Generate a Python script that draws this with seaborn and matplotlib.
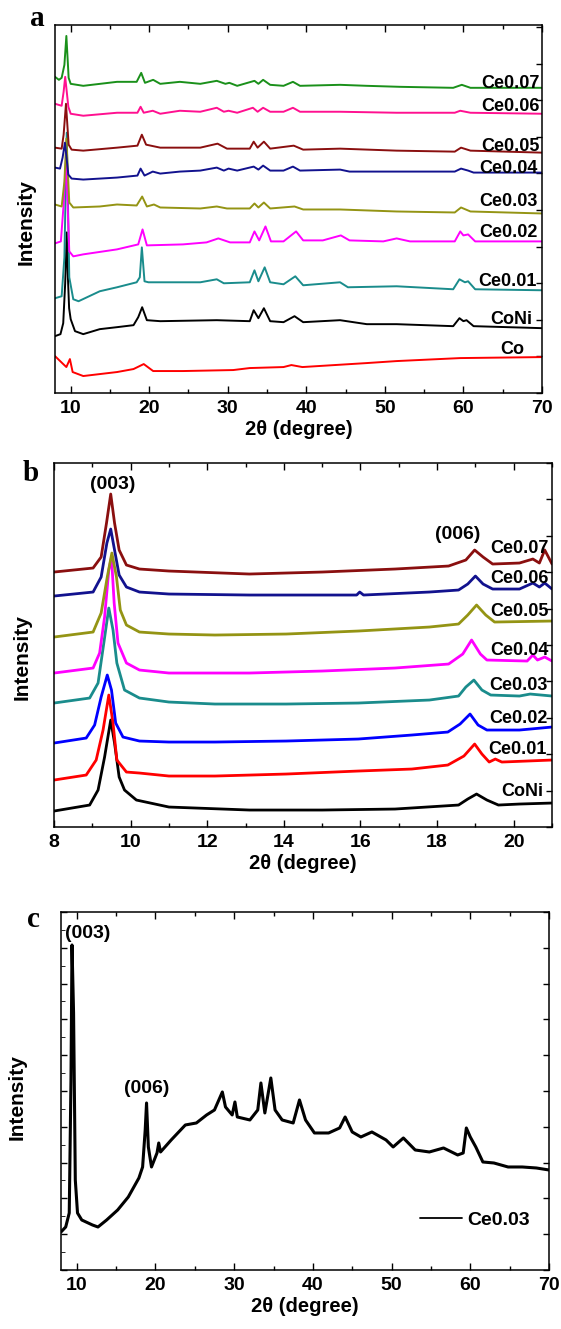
import matplotlib
matplotlib.use("Agg")
import matplotlib.pyplot as plt
from matplotlib.ticker import MultipleLocator
import pandas as pd
import seaborn as sns

# XRD patterns: (2theta in degree, intensity in a.u., stacking offset included)

# ---- panel a, 8-70 degree
a_co = [(8.0, 37), (9.05, 29), (9.45, 26), (9.9, 34), (10.25, 21), (11.6, 17), (15.9, 21),
        (18.0, 24), (19.3, 29), (20.5, 22), (24.3, 22), (30.7, 23), (32.8, 25), (37.1, 26),
        (38.1, 28), (39.5, 26), (47.7, 30), (51.5, 32), (59.6, 35), (70.0, 36)]
a_coni = [(8.0, 57), (8.7, 59), (9.05, 70), (9.3, 110), (9.5, 161), (9.65, 115), (9.8, 85),
          (10.0, 74), (10.55, 62), (11.6, 59), (13.7, 64), (15.9, 66), (18.0, 68), (18.6, 76),
          (19.1, 86), (19.7, 73), (21.4, 72), (28.6, 73), (32.8, 72), (33.3, 83), (33.9, 75),
          (34.6, 85), (35.4, 72), (37.1, 71), (38.5, 77), (39.6, 71), (44.3, 73), (47.7, 69),
          (51.5, 69), (58.7, 67), (59.5, 75), (60.0, 72), (60.4, 73), (61.3, 67), (70.0, 65)]
a_ce001 = [(8.0, 95), (8.85, 97), (9.2, 136), (9.5, 261), (9.82, 116), (10.33, 94), (11.0, 92),
           (13.7, 102), (15.9, 106), (18.4, 111), (18.8, 116), (19.06, 146), (19.4, 112),
           (19.9, 111), (26.5, 111), (28.6, 114), (29.5, 110), (32.8, 111), (33.4, 123),
           (33.9, 112), (34.7, 126), (35.4, 111), (37.1, 109), (38.6, 117), (39.6, 108),
           (44.3, 111), (45.3, 106), (51.5, 107), (58.7, 104), (59.5, 114), (60.2, 111),
           (60.6, 112), (61.5, 104), (70.0, 103)]
a_ce002 = [(8.0, 150), (8.75, 152), (9.1, 189), (9.4, 235), (9.82, 142), (10.33, 137), (11.6, 139),
           (15.9, 144), (18.6, 149), (19.15, 164), (19.7, 148), (24.3, 149), (27.3, 151),
           (28.8, 155), (30.3, 151), (32.8, 151), (33.4, 162), (34.0, 153), (34.8, 167),
           (35.5, 152), (37.1, 152), (38.7, 162), (39.6, 153), (42.1, 153), (44.4, 158),
           (45.5, 153), (49.8, 152), (51.5, 155), (53.2, 152), (58.9, 152), (59.6, 162),
           (60.0, 158), (60.6, 159), (61.5, 152), (70.0, 152)]
a_ce003 = [(8.0, 189), (8.85, 187), (9.2, 212), (9.45, 255), (9.82, 191), (10.33, 186), (13.7, 187),
           (15.9, 189), (18.4, 188), (19.1, 197), (19.7, 187), (20.6, 189), (21.4, 186),
           (26.5, 185), (28.6, 187), (29.9, 185), (32.8, 185), (33.4, 190), (33.9, 186),
           (34.6, 191), (35.4, 185), (38.5, 187), (39.6, 184), (44.3, 184), (51.5, 182),
           (58.9, 181), (59.7, 186), (60.9, 182), (70.0, 180)]
a_ce004 = [(8.0, 226), (8.64, 225), (8.97, 236), (9.27, 251), (9.7, 219), (10.12, 215), (11.6, 214),
           (15.9, 216), (18.5, 218), (18.9, 225), (19.4, 218), (20.45, 222), (21.4, 220),
           (23.9, 222), (26.5, 223), (28.6, 226), (29.5, 223), (30.1, 225), (31.2, 223),
           (33.3, 227), (33.9, 224), (34.5, 228), (35.4, 223), (37.1, 223), (38.3, 227),
           (39.2, 223), (44.3, 224), (45.5, 222), (51.9, 222), (58.9, 222), (59.7, 225),
           (60.6, 223), (61.3, 221), (70.0, 221)]
a_ce005 = [(8.0, 246), (8.85, 245), (9.1, 259), (9.4, 290), (9.74, 249), (10.12, 244), (11.6, 243),
           (15.9, 246), (18.5, 248), (19.06, 259), (19.6, 249), (21.4, 246), (26.5, 246),
           (28.7, 250), (29.9, 245), (32.8, 245), (33.3, 252), (33.8, 246), (34.6, 252),
           (35.4, 245), (38.4, 248), (39.6, 244), (44.3, 245), (51.5, 243), (58.9, 242),
           (59.7, 246), (60.9, 243), (70.0, 241)]
a_ce006 = [(8.0, 290), (8.85, 288), (9.1, 302), (9.3, 317), (9.7, 287), (10.0, 280), (11.6, 278),
           (15.9, 281), (18.5, 281), (18.9, 287), (19.3, 281), (20.45, 283), (21.4, 280),
           (23.9, 283), (26.5, 282), (28.6, 286), (29.5, 282), (30.1, 283), (31.2, 281),
           (33.2, 286), (33.8, 282), (34.5, 286), (35.4, 282), (37.1, 282), (38.3, 286),
           (39.2, 282), (44.3, 282), (51.5, 281), (58.9, 281), (59.6, 283), (60.9, 281), (70.0, 280)]
a_ce007 = [(8.0, 317), (8.5, 314), (8.85, 316), (9.2, 329), (9.45, 358), (9.74, 316), (10.0, 310),
           (11.6, 308), (15.9, 312), (18.4, 312), (18.98, 321), (19.46, 311), (20.5, 314),
           (21.4, 310), (23.9, 312), (26.5, 310), (28.6, 313), (29.7, 310), (30.2, 311),
           (31.2, 308), (33.4, 313), (33.9, 310), (34.5, 314), (35.4, 309), (37.1, 308),
           (38.3, 312), (39.2, 308), (44.3, 309), (47.7, 308), (51.9, 307), (58.7, 306),
           (59.8, 309), (60.9, 306), (70.0, 306)]

a_samples = ["Co", "CoNi", "Ce0.01", "Ce0.02", "Ce0.03", "Ce0.04", "Ce0.05", "Ce0.06", "Ce0.07"]
a_curves = [a_co, a_coni, a_ce001, a_ce002, a_ce003, a_ce004, a_ce005, a_ce006, a_ce007]
a_colors = ["#ff0000", "#000000", "#1a8c8c", "#ff00ff", "#949414", "#12128e", "#8a0f0f",
            "#ff1090", "#1a901a"]

# ---- panel b, 8-21 degree
b_coni = [(8.0, 16), (8.93, 22), (9.15, 37), (9.32, 70), (9.48, 107), (9.58, 84), (9.7, 50),
          (9.84, 37), (10.15, 27), (11.0, 20), (13.1, 17), (15.0, 17), (16.9, 18), (18.56, 22),
          (18.8, 28), (19.03, 33), (19.3, 27), (19.6, 22), (20.15, 23), (21.0, 24)]
b_ce001 = [(8.0, 47), (8.84, 52), (9.1, 67), (9.28, 97), (9.43, 132), (9.54, 104), (9.64, 67),
           (9.89, 55), (10.23, 54), (11.0, 51), (12.2, 51), (14.06, 53), (15.94, 56), (17.34, 58),
           (18.28, 62), (18.7, 71), (18.98, 83), (19.17, 73), (19.36, 65), (19.52, 68),
           (19.69, 65), (21.0, 67)]
b_ce002 = [(8.0, 84), (8.84, 89), (9.06, 102), (9.23, 130), (9.39, 152), (9.5, 137), (9.61, 104),
           (9.8, 90), (10.23, 86), (11.0, 85), (12.2, 85), (14.06, 86), (15.94, 88), (17.34, 92),
           (18.28, 95), (18.6, 103), (18.86, 113), (19.07, 102), (19.3, 97), (20.15, 97),
           (21.0, 100)]
b_ce003 = [(8.0, 124), (8.93, 129), (9.15, 144), (9.3, 184), (9.43, 219), (9.54, 197), (9.64, 164),
           (9.84, 137), (10.23, 129), (11.0, 125), (12.2, 123), (14.06, 123), (15.94, 124),
           (17.8, 127), (18.56, 131), (18.75, 140), (18.96, 147), (19.17, 137), (19.4, 132),
           (20.15, 131), (20.43, 133), (21.0, 131)]
b_ce004 = [(8.0, 154), (9.02, 159), (9.19, 174), (9.32, 210), (9.43, 257), (9.5, 270), (9.57, 224),
           (9.67, 184), (9.89, 164), (10.23, 157), (11.0, 154), (13.1, 154), (15.0, 156),
           (16.9, 159), (18.3, 163), (18.67, 173), (18.9, 187), (19.13, 173), (19.3, 167),
           (20.35, 166), (20.5, 172), (20.62, 167), (20.81, 170), (21.0, 166)]
b_ce005 = [(8.0, 190), (9.02, 195), (9.23, 214), (9.39, 250), (9.51, 274), (9.63, 250), (9.73, 217),
           (9.89, 202), (10.23, 195), (11.0, 193), (12.2, 192), (14.06, 193), (15.94, 196),
           (17.8, 200), (18.56, 203), (18.8, 212), (19.03, 222), (19.27, 212), (19.5, 205),
           (21.0, 206)]
b_ce006 = [(8.0, 231), (9.02, 235), (9.23, 250), (9.38, 284), (9.48, 298), (9.58, 277), (9.7, 252),
           (9.89, 240), (10.23, 235), (11.0, 233), (13.1, 232), (15.9, 232), (15.98, 235),
           (16.08, 232), (17.8, 235), (18.56, 237), (18.8, 243), (19.0, 251), (19.2, 243),
           (19.45, 238), (20.15, 238), (20.5, 244), (20.67, 240), (20.81, 244), (21.0, 238)]
b_ce007 = [(8.0, 255), (9.02, 259), (9.23, 270), (9.37, 304), (9.48, 333), (9.58, 304), (9.7, 277),
           (9.89, 262), (10.23, 258), (11.0, 256), (13.1, 253), (15.0, 255), (16.9, 258),
           (18.3, 261), (18.75, 267), (18.98, 277), (19.2, 270), (19.45, 263), (20.15, 264),
           (20.5, 268), (20.67, 264), (20.81, 277), (21.0, 263)]

b_samples = ["CoNi", "Ce0.01", "Ce0.02", "Ce0.03", "Ce0.04", "Ce0.05", "Ce0.06", "Ce0.07"]
b_curves = [b_coni, b_ce001, b_ce002, b_ce003, b_ce004, b_ce005, b_ce006, b_ce007]
b_colors = ["#000000", "#ff0000", "#0000ff", "#1a8c8c", "#ff00ff", "#949414", "#12128e", "#8a0f0f"]

# ---- panel c, Ce0.03 alone
c_ce003 = [(8.0, 38), (8.6, 43), (9.05, 57), (9.27, 190), (9.4, 325), (9.6, 257), (9.82, 90),
           (10.1, 57), (10.64, 50), (12.0, 45), (12.7, 43), (13.8, 50), (15.2, 60), (16.55, 73),
           (17.9, 92), (18.37, 103), (18.7, 140), (18.87, 167), (19.1, 123), (19.5, 103),
           (20.2, 117), (20.42, 127), (20.65, 118), (22.0, 130), (23.8, 145), (25.2, 147),
           (26.5, 155), (27.5, 160), (28.5, 178), (28.9, 163), (29.75, 155), (30.1, 168),
           (30.4, 153), (32.0, 150), (33.0, 160), (33.4, 187), (33.9, 157), (34.66, 192),
           (35.2, 160), (36.1, 150), (37.5, 147), (38.3, 170), (39.07, 150), (40.2, 137),
           (42.0, 137), (43.4, 142), (44.1, 153), (45.0, 138), (46.1, 133), (47.5, 138),
           (49.3, 130), (50.2, 123), (51.5, 132), (53.0, 120), (54.8, 118), (56.6, 122),
           (58.4, 115), (59.1, 117), (59.5, 142), (60.0, 133), (60.7, 123), (61.6, 108),
           (63.0, 107), (64.8, 103), (66.6, 103), (68.4, 102), (70.0, 100)]


def to_frame(samples, curves):
    rows = []
    for name, pts in zip(samples, curves):
        for tt, inten in pts:
            rows.append((name, tt, inten))
    return pd.DataFrame(rows, columns=["sample", "two_theta", "intensity"])


sns.set_style("ticks")
plt.rcParams["font.family"] = ["Liberation Sans", "DejaVu Sans"]
plt.rcParams["font.weight"] = "bold"
plt.rcParams["axes.labelweight"] = "bold"
plt.rcParams["text.color"] = "black"
plt.rcParams["axes.labelcolor"] = "black"
plt.rcParams["xtick.color"] = "black"
plt.rcParams["ytick.color"] = "black"

fig = plt.figure(figsize=(5.61, 13.29), dpi=100)
ax_a = fig.add_axes([0.098, 0.7043, 0.868, 0.2769])
ax_b = fig.add_axes([0.0963, 0.3777, 0.8877, 0.2739])
ax_c = fig.add_axes([0.1087, 0.0444, 0.8699, 0.2694])


def style_axes(ax, xlim, xmajor, xminor, ylim, ystep, label_xy):
    ax.set_xlim(*xlim)
    ax.set_ylim(*ylim)
    ax.xaxis.set_major_locator(MultipleLocator(xmajor))
    ax.xaxis.set_minor_locator(MultipleLocator(xminor))
    ax.yaxis.set_major_locator(MultipleLocator(ystep))
    ax.tick_params(axis="x", which="both", direction="in", top=True, labelsize=14, pad=5,
                   width=1.0, colors="black")
    ax.tick_params(axis="x", which="major", length=5)
    ax.tick_params(axis="x", which="minor", length=3)
    ax.tick_params(axis="y", which="major", direction="in", left=False, right=True,
                   labelleft=False, length=4, width=1.0, colors="black")
    for sp in ax.spines.values():
        sp.set_linewidth(1.1)
        sp.set_color("black")
    ax.set_xlabel("2θ (degree)", fontsize=14.5, labelpad=2)
    ax.set_ylabel("Intensity", fontsize=15)
    ax.yaxis.set_label_coords(*label_xy)


# panel a
df_a = to_frame(a_samples, a_curves)
sns.lineplot(data=df_a, x="two_theta", y="intensity", hue="sample", hue_order=a_samples,
             palette=a_colors, estimator=None, legend=False, linewidth=1.4, ax=ax_a)
style_axes(ax_a, (8, 70), 10, 5, (0, 369), 36.7, (-0.04, 0.465))
a_text = [("Ce0.07", 69.7, 306), ("Ce0.06", 69.7, 283), ("Ce0.05", 69.7, 243),
          ("Ce0.04", 69.5, 221), ("Ce0.03", 69.5, 187), ("Ce0.02", 69.5, 156),
          ("Ce0.01", 69.3, 107), ("CoNi", 68.8, 69), ("Co", 67.7, 39)]
for name, tx, ty in a_text:
    ax_a.text(tx, ty, name, ha="right", va="baseline", fontsize=13, fontweight="bold")

# panel b
df_b = to_frame(b_samples, b_curves)
sns.lineplot(data=df_b, x="two_theta", y="intensity", hue="sample", hue_order=b_samples,
             palette=b_colors, estimator=None, legend=False, linewidth=2.0, ax=ax_b)
style_axes(ax_b, (8, 21), 2, 1, (0, 364), 36.4, (-0.044, 0.467))
b_text = [("Ce0.07", 20.92, 274), ("Ce0.06", 20.92, 244), ("Ce0.05", 20.92, 211),
          ("Ce0.04", 20.92, 172), ("Ce0.03", 20.88, 137), ("Ce0.02", 20.88, 104),
          ("Ce0.01", 20.85, 73), ("CoNi", 20.77, 31)]
for name, tx, ty in b_text:
    ax_b.text(tx, ty, name, ha="right", va="baseline", fontsize=13, fontweight="bold")
ax_b.text(9.52, 343, "(003)", ha="center", va="center", fontsize=14, fontweight="bold")
ax_b.text(18.54, 293, "(006)", ha="center", va="center", fontsize=14, fontweight="bold")

# panel c
df_c = pd.DataFrame(c_ce003, columns=["two_theta", "intensity"])
sns.lineplot(data=df_c, x="two_theta", y="intensity", color="black", linewidth=2.2,
             estimator=None, label="Ce0.03", ax=ax_c)
style_axes(ax_c, (8, 70), 10, 5, (0, 358), 35.8, (-0.07, 0.483))
ax_c.yaxis.set_minor_locator(MultipleLocator(17.9))
ax_c.tick_params(axis="y", which="minor", direction="in", left=True, right=False, length=3,
                 colors="black")
ax_c.tick_params(axis="y", which="major", left=True)
ax_c.text(11.37, 336, "(003)", ha="center", va="center", fontsize=14, fontweight="bold")
ax_c.text(18.87, 181, "(006)", ha="center", va="center", fontsize=14, fontweight="bold")
leg = ax_c.legend(loc="center right", bbox_to_anchor=(0.961, 0.14), frameon=False,
                  fontsize=14, handlelength=2.2, handletextpad=0.25, borderpad=0,
                  borderaxespad=0)
for line in leg.get_lines():
    line.set_linewidth(1.3)

# panel letters
for letter, fx, fy in [("a", 0.066, 0.9860), ("b", 0.0545, 0.6440), ("c", 0.060, 0.3080)]:
    fig.text(fx, fy, letter, ha="center", va="center", fontsize=21, fontweight="bold",
             family=["Liberation Serif", "DejaVu Serif"])

fig.savefig("out.png", dpi=100)
